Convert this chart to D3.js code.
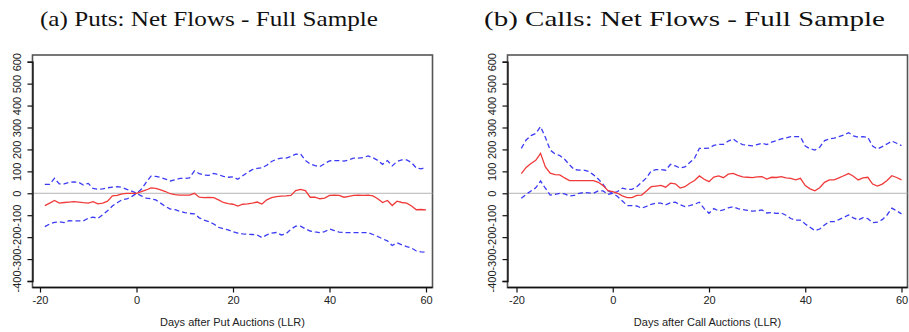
<!DOCTYPE html>
<html>
<head>
<meta charset="utf-8">
<script src="https://cdn.jsdelivr.net/npm/d3@7"></script>
<style>
  body { margin: 0; background: #fff; }
  svg { display: block; }
  .tick-label { font-family: "Liberation Sans", Arial, sans-serif; font-size: 11px; fill: #222; }
  .ttl { font-family: "Liberation Serif", "Times New Roman", serif; font-size: 21px; fill: #111; }
</style>
</head>
<body>
<svg id="chart" width="909" height="332"></svg>
<script>
// days after auction
const days = d3.range(-19, 61)

const putMean = [-56,-45,-33,-45,-42,-40,-38,-40,-43,-45,-38,-48,-45,-36,-12,-10,-3,0,0,0,
  8,15,25,22,15,8,-2,-6,-8,-8,-8,0,-18,-20,-19,-20,-30,-42,-47,-50,
  -58,-50,-48,-45,-40,-49,-30,-20,-15,-13,-12,-10,12,18,12,-18,-18,-25,-22,-10,
  -8,-10,-18,-14,-10,-9,-10,-8,-12,-25,-42,-33,-56,-36,-42,-45,-58,-75,-74,-76]
const putUpper = [41,41,68,43,43,50,52,50,38,45,22,18,20,25,28,30,27,18,10,0,
  18,50,78,77,72,65,56,62,68,68,70,102,90,83,82,91,85,77,73,75,
  64,80,95,108,114,116,128,145,155,160,160,168,178,180,150,133,126,122,135,148,
  149,149,147,152,160,160,163,170,162,150,132,149,125,145,152,152,140,115,111,118]
const putLower = [-152,-140,-133,-130,-134,-125,-126,-126,-126,-114,-109,-114,-98,-80,-58,-43,-30,-26,-15,0,
  -12,-22,-25,-30,-45,-60,-72,-75,-82,-88,-92,-94,-112,-122,-129,-140,-155,-162,-167,-175,
  -182,-185,-187,-188,-190,-202,-190,-182,-179,-190,-185,-164,-150,-150,-162,-172,-176,-179,-175,-163,
  -170,-177,-179,-179,-179,-179,-179,-179,-188,-197,-208,-217,-238,-226,-235,-243,-250,-263,-267,-269]

const callMean = [90,118,136,150,182,120,92,85,84,70,58,58,58,58,58,58,50,35,12,8,
  0,-12,-20,-20,-10,-8,10,30,33,36,28,46,43,24,30,46,58,79,64,53,
  74,79,71,87,91,82,75,73,71,75,76,65,73,72,76,70,68,61,68,35,
  20,11,25,50,61,61,70,80,90,78,61,70,73,42,33,42,58,80,72,61]
const callUpper = [205,243,263,273,304,255,197,180,172,155,130,108,106,106,100,84,65,40,12,0,
  8,23,18,18,30,50,70,102,108,108,105,132,125,115,120,140,160,205,205,206,
  218,223,223,238,248,232,222,219,216,222,228,222,233,240,248,252,258,258,258,215,
  203,197,210,240,248,251,258,266,276,262,256,258,255,215,202,213,225,238,228,217]
const callLower = [-23,-5,10,25,56,23,-8,-5,0,-3,-12,-10,0,3,2,0,11,11,-5,0,
  -15,-35,-56,-56,-58,-68,-60,-50,-45,-45,-53,-43,-41,-52,-61,-56,-50,-41,-70,-91,
  -70,-80,-76,-66,-61,-70,-74,-78,-81,-80,-76,-90,-88,-92,-90,-100,-115,-122,-122,-140,
  -155,-170,-163,-145,-129,-129,-120,-110,-99,-112,-122,-111,-115,-134,-132,-120,-99,-68,-80,-94]

const xTicks = [-20, 0, 20, 40, 60]
const yTicks = [-400, -300, -200, -100, 0, 100, 200, 300, 400, 500, 600]

const panels = [
  { title: '(a) Puts: Net Flows - Full Sample', xlab: 'Days after Put Auctions (LLR)',
    mean: putMean, upper: putUpper, lower: putLower,
    fl: 32.5, fr: 432.5, x0: 40, x1: 426, tx: 40, tw: 338 },
  { title: '(b) Calls: Net Flows - Full Sample', xlab: 'Days after Call Auctions (LLR)',
    mean: callMean, upper: callUpper, lower: callLower,
    fl: 507.5, fr: 907.5, x0: 516.5, x1: 901.5, tx: 484, tw: 401 }
]

const svg = d3.select('#chart')
const plotTop = 55, plotBottom = 287.5

const y = d3.scaleLinear().domain([-400, 600]).range([281, 61.7])

panels.forEach(p => {
  const g = svg.append('g')
  const x = d3.scaleLinear().domain([-20, 60]).range([p.x0, p.x1])

  // title
  g.append('text')
    .attr('class', 'ttl')
    .attr('x', p.tx).attr('y', 26)
    .attr('textLength', p.tw)
    .attr('lengthAdjust', 'spacingAndGlyphs')
    .text(p.title)

  // frame
  g.append('rect')
    .attr('x', p.fl).attr('y', plotTop)
    .attr('width', p.fr - p.fl).attr('height', plotBottom - plotTop)
    .attr('fill', 'none').attr('stroke', '#555').attr('stroke-width', 1.6)

  // zero line
  g.append('line')
    .attr('x1', p.fl).attr('x2', p.fr)
    .attr('y1', y(0)).attr('y2', y(0))
    .attr('stroke', '#b4b4b4').attr('stroke-width', 1)

  // y axis
  const ya = g.append('g')
    .attr('transform', `translate(${p.fl},0)`)
    .call(d3.axisLeft(y).tickValues(yTicks).tickSize(5).tickPadding(0).tickFormat(d => ''))
  ya.select('.domain').attr('stroke', '#111').attr('stroke-width', 1.3)
  ya.selectAll('.tick line').attr('stroke', '#111').attr('stroke-width', 1.2)
  ya.selectAll('.tick').append('text')
    .attr('class', 'tick-label')
    .attr('transform', 'translate(-15,0) rotate(-90)')
    .attr('text-anchor', 'middle')
    .attr('fill', '#222')
    .attr('dy', '0.35em')
    .text(d => d)

  // x axis
  const xa = g.append('g')
    .attr('transform', `translate(0,${plotBottom})`)
    .call(d3.axisBottom(x).tickValues(xTicks).tickSize(5).tickPadding(4).tickFormat(d => d))
  xa.select('.domain').remove()
  xa.append('line').attr('x1', p.fl).attr('x2', p.fr)
    .attr('stroke', '#111').attr('stroke-width', 1.3)
  xa.selectAll('.tick line').attr('stroke', '#111').attr('stroke-width', 1.2)
  xa.selectAll('.tick text').attr('class', 'tick-label').attr('fill', '#222')

  g.append('text')
    .attr('class', 'tick-label')
    .attr('x', (p.fl + p.fr) / 2).attr('y', 325.5)
    .attr('text-anchor', 'middle')
    .text(p.xlab)

  const line = vals => d3.line()
    .x((d, i) => x(days[i]))
    .y(d => y(d))(vals)

  ;[p.upper, p.lower].forEach(s => {
    g.append('path')
      .attr('d', line(s))
      .attr('fill', 'none')
      .attr('stroke', '#3b3bf5')
      .attr('stroke-width', 1.3)
      .attr('stroke-dasharray', '5,3')
  })

  g.append('path')
    .attr('d', line(p.mean))
    .attr('fill', 'none')
    .attr('stroke', '#f03a3a')
    .attr('stroke-width', 1.3)
})
</script>
</body>
</html>
